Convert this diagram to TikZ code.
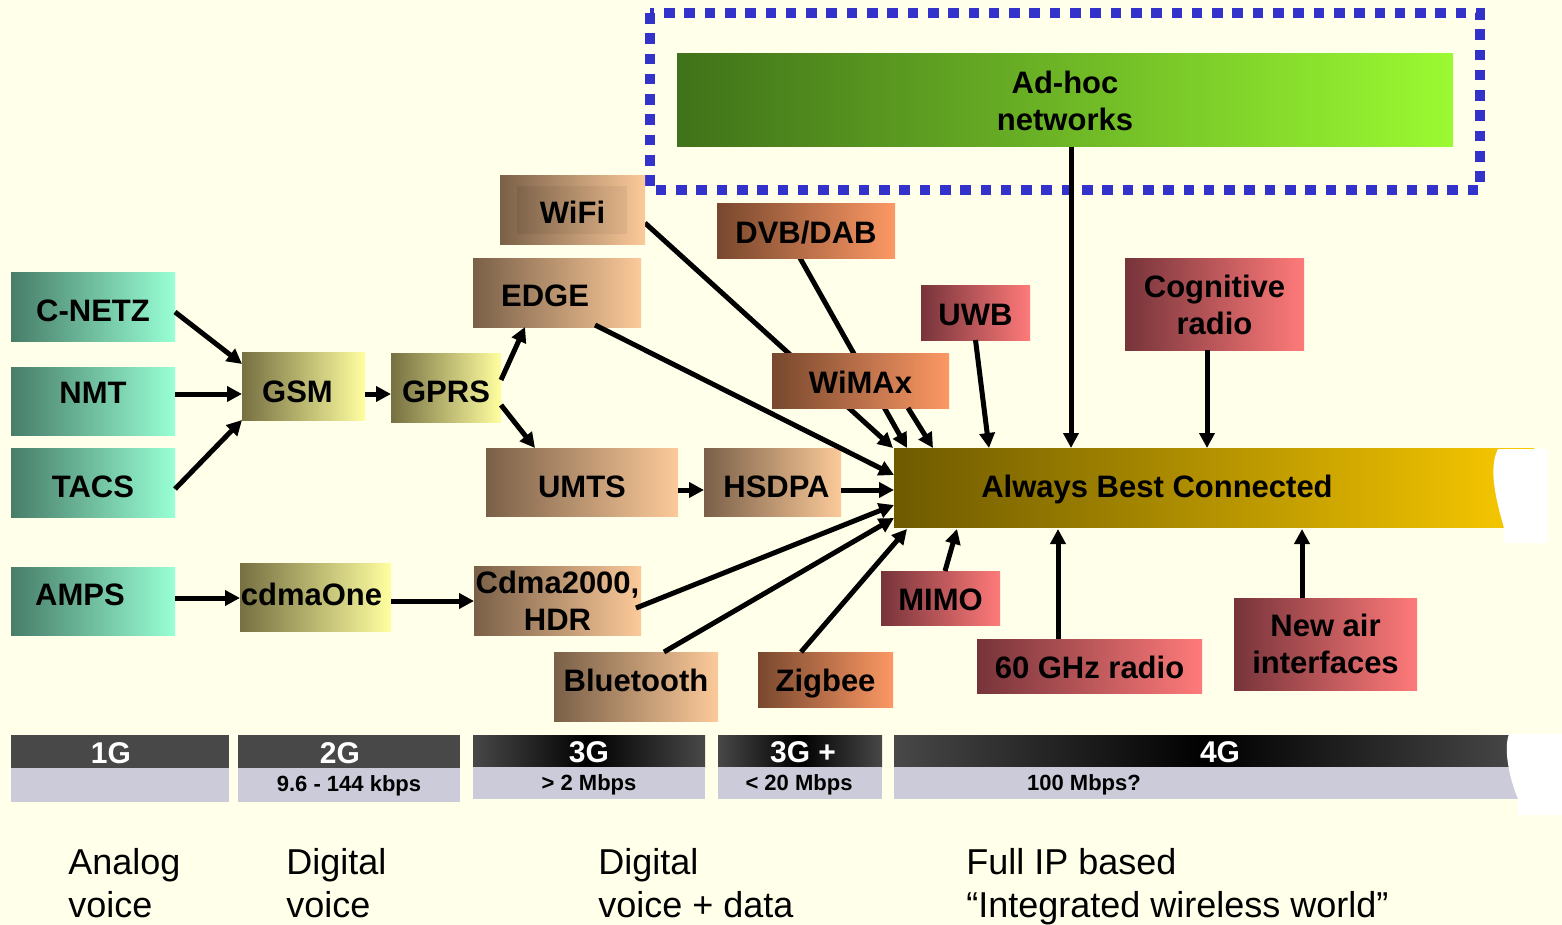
\documentclass[tikz,border=0pt]{standalone}
\usepackage{fontspec}
\setmainfont{Liberation Sans}
\usetikzlibrary{arrows.meta,fit,calc}
\pgfdeclarelayer{back}
\pgfdeclarelayer{behind}
\pgfsetlayers{back,behind,main}
\definecolor{bgc}{RGB}{255,255,234}
\definecolor{tealL}{RGB}{72,125,105}\definecolor{tealR}{RGB}{152,255,212}
\definecolor{oliveL}{RGB}{118,112,66}\definecolor{oliveR}{RGB}{255,255,160}
\definecolor{peachL}{RGB}{122,96,72}\definecolor{peachR}{RGB}{252,202,154}
\definecolor{orangeL}{RGB}{120,72,46}\definecolor{orangeR}{RGB}{252,152,100}
\definecolor{roseL}{RGB}{118,52,58}\definecolor{roseR}{RGB}{255,122,122}
\definecolor{greenL}{RGB}{64,114,26}\definecolor{greenR}{RGB}{155,250,50}
\definecolor{goldL}{RGB}{110,90,0}\definecolor{goldR}{RGB}{250,202,0}
\definecolor{dotblue}{RGB}{51,51,204}
\definecolor{bardark}{RGB}{72,72,72}
\definecolor{barlight}{RGB}{203,203,217}
\tikzset{
  txt/.style={inner sep=0pt, outer sep=0pt, font=\bfseries\fontsize{15.5}{18.5}\selectfont, align=center, text=black},
  box/.style={inner sep=0pt, outer sep=0pt},
  bteal/.style={box, left color=tealL, right color=tealR},
  bolive/.style={box, left color=oliveL, right color=oliveR},
  bpeach/.style={box, left color=peachL, right color=peachR},
  borange/.style={box, left color=orangeL, right color=orangeR},
  brose/.style={box, left color=roseL, right color=roseR},
  bgreen/.style={box, left color=greenL, right color=greenR},
  bgold/.style={box, left color=goldL, right color=goldR},
  arr/.style={line width=2.5pt, -{Triangle[length=7.5pt,width=7.5pt]}},
  barhead/.style={text=white, font=\bfseries\fontsize{15}{17}\selectfont, inner sep=0pt},
  barsub/.style={text=black, font=\bfseries\fontsize{11}{13}\selectfont, inner sep=0pt},
  era/.style={anchor=north west, align=left, inner sep=0pt, font=\fontsize{18}{21.5}\selectfont}
}
\begin{document}
\begin{tikzpicture}[x=0.5pt,y=-0.5pt]
\useasboundingbox (0,0) rectangle (1562,925);
\begin{pgfonlayer}{back}
\fill[bgc] (0,0) rectangle (1562,925);
\end{pgfonlayer}

% dotted frame and ad-hoc
\draw[dotblue, line width=5.3pt, dash pattern=on 5.3pt off 4.85pt] (650,13) rectangle (1480,190);
\node[bgreen, fit={(677,54) (1453,147)}, label={[txt]center:{Ad-hoc\\networks}}] (adhoc) {};

% 1G column
\node[bteal, fit={(11,272) (175,341)}, label={[txt,yshift=-2pt]center:{C-NETZ}}] (cnetz) {};
\node[bteal, fit={(11,367) (175,435)}, label={[txt,yshift=4pt]center:{NMT}}] (nmt) {};
\node[bteal, fit={(11,448) (175,517)}, label={[txt,yshift=-2pt]center:{TACS}}] (tacs) {};
\node[bteal, fit={(11,567) (175,635)}, label={[txt,xshift=-6.5pt,yshift=3pt]center:{AMPS}}] (amps) {};

% 2G
\node[bolive, fit={(242,352) (365,420)}, label={[txt,xshift=-3pt,yshift=-3pt]center:{GSM}}] (gsm) {};
\node[bolive, fit={(391,353) (501,422)}, label={[txt,yshift=-2pt]center:{GPRS}}] (gprs) {};
\node[bolive, fit={(240,563) (391,631)}, label={[txt,xshift=-2pt,yshift=1.5pt]center:{cdmaOne}}] (cdmaone) {};

% 3G
\node[bpeach, fit={(500,176) (645,245)},
  path picture={\fill[left color=peachL!92!black, right color=peachR!95!black]
    ([shift={(17,11)}]path picture bounding box.north west) rectangle
    ([shift={(-18,-11)}]path picture bounding box.south east);},
  label={[txt,yshift=-1pt]center:{WiFi}}] (wifi) {};
\node[bpeach, fit={(473,258) (641,327)}, label={[txt,xshift=-6pt,yshift=-1.5pt]center:{EDGE}}] (edge) {};
\node[bpeach, fit={(486,448) (678,516)}, label={[txt,yshift=-2.5pt]center:{UMTS}}] (umts) {};
\node[bpeach, fit={(704,448) (841,516)}, label={[txt,xshift=2pt,yshift=-2.5pt]center:{HSDPA}}] (hsdpa) {};
\node[bpeach, fit={(474,566) (641,635)}, label={[txt]center:{Cdma2000,\\HDR}}] (cdma2000) {};
\node[bpeach, fit={(554,652) (718,721)}, label={[txt,yshift=3pt]center:{Bluetooth}}] (bluetooth) {};

% 3G+
\node[borange, fit={(717,204) (895,258)}, label={[txt,yshift=-1pt]center:{DVB/DAB}}] (dvb) {};
\node[borange, fit={(758,652) (893,707)}, label={[txt,yshift=-2pt]center:{Zigbee}}] (zigbee) {};

% 4G
\node[brose, fit={(921,285) (1030,340)}, label={[txt,yshift=-1pt]center:{UWB}}] (uwb) {};
\node[brose, fit={(1125,258) (1304,350)}, label={[txt,yshift=-0.5pt]center:{Cognitive\\radio}}] (cog) {};
\node[brose, fit={(881,571) (1000,625)}, label={[txt,yshift=-1pt]center:{MIMO}}] (mimo) {};
\node[brose, fit={(977,639) (1202,693)}, label={[txt,yshift=-0.5pt]center:{60 GHz radio}}] (ghz) {};
\node[brose, fit={(1234,598) (1417,690)}, label={[txt]center:{New air\\interfaces}}] (newair) {};

\node[bgold, fit={(894,448) (1534,527)}] (abc) {};
\fill[white] (1498,449) .. controls (1488,468) and (1496,500) .. (1504,528) -- (1504,543) -- (1548,543) -- (1548,449) -- cycle;
\node[txt] at (1157,489) {Always Best Connected};

% arrows passing behind WiMAx
\begin{pgfonlayer}{behind}
\draw[arr] ([shift={(0,12.5)}]wifi.east) -- ([shift={(-1,0)}]abc.north west);
\draw[arr] ([shift={(-6,0)}]dvb.south) -- ([shift={(13,0)}]abc.north west);
\end{pgfonlayer}
\node[borange, fit={(772,353) (949,408)}, label={[txt,yshift=-1pt]center:{WiMAx}}] (wimax) {};

% arrows
\draw[arr] ([shift={(0,5.5)}]cnetz.east) -- ([shift={(0,-22)}]gsm.west);
\draw[arr] ([shift={(0,-7)}]nmt.east) -- ([shift={(0,8)}]gsm.west);
\draw[arr] ([shift={(0,6.5)}]tacs.east) -- (gsm.south west);
\draw[arr] ([shift={(0,8)}]gsm.east) -- ([shift={(0,6.5)}]gprs.west);
\draw[arr] ([shift={(0,-7.5)}]gprs.east) -- ([shift={(-32,0)}]edge.south);
\draw[arr] ([shift={(0,17.5)}]gprs.east) -- ([shift={(-47,0)}]umts.north);
\draw[arr] ([shift={(38,-2)}]edge.south) -- ([shift={(0,-12.5)}]abc.west);
\draw[arr] ([shift={(47.5,0)}]wimax.south) -- ([shift={(39,0)}]abc.north west);
\draw[arr] (uwb.south) -- ([shift={(95,0)}]abc.north west);
\draw[arr] ([shift={(6,0)}]adhoc.south) -- ([shift={(177,0)}]abc.north west);
\draw[arr] ([shift={(-7.5,0)}]cog.south) -- ([shift={(313,0)}]abc.north west);
\draw[arr] ([shift={(0,8)}]umts.east) -- ([shift={(0,8)}]hsdpa.west);
\draw[arr] ([shift={(0,8)}]hsdpa.east) -- ([shift={(0,2.5)}]abc.west);
\draw[arr] ([shift={(0,-3)}]amps.east) -- ([shift={(0,1)}]cdmaone.west);
\draw[arr] ([shift={(0,4)}]cdmaone.east) -- ([shift={(0,0.5)}]cdma2000.west);
\draw[arr] ([shift={(-5,7.5)}]cdma2000.east) -- ([shift={(0,17.5)}]abc.west);
\draw[arr] ([shift={(28,0)}]bluetooth.north) -- ([shift={(0,30.5)}]abc.west);
\draw[arr] ([shift={(-24.5,0)}]zigbee.north) -- ([shift={(13,2)}]abc.south west);
\draw[arr] ([shift={(4.5,0)}]mimo.north) -- ([shift={(63,2)}]abc.south west);
\draw[arr] ([shift={(-31.5,0)}]ghz.north) -- ([shift={(164,2)}]abc.south west);
\draw[arr] ([shift={(-23.5,0)}]newair.north) -- ([shift={(408,2)}]abc.south west);

% generation bars
\fill[bardark] (11,735) rectangle (229,768);
\fill[barlight] (11,768) rectangle (229,802);
\fill[bardark] (238,735) rectangle (460,768);
\fill[barlight] (238,768) rectangle (460,802);
\shade[left color=bardark, right color=bardark, middle color=black] (473,735) rectangle (705,767);
\fill[barlight] (473,767) rectangle (705,799);
\shade[left color=bardark, right color=bardark, middle color=black] (718,735) rectangle (882,767);
\fill[barlight] (718,767) rectangle (882,799);
\shade[left color=bardark, right color=bardark, middle color=black] (894,735) rectangle (1520,767);
\fill[barlight] (894,767) rectangle (1520,799);
\fill[white] (1509,734) .. controls (1503,750) and (1510,780) .. (1518,799) -- (1518,815) -- (1562,815) -- (1562,734) -- cycle;

\node[barhead] at (111,753) {1G};
\node[barhead] at (340,753) {2G};
\node[barhead] at (589,752) {3G};
\node[barhead] at (803,752) {3G +};
\node[barhead] at (1220,752) {4G};
\node[barsub] at (349,786) {9.6 - 144 kbps};
\node[barsub] at (589,785) {> 2 Mbps};
\node[barsub] at (799,785) {< 20 Mbps};
\node[barsub] at (1084,785) {100 Mbps?};

% era texts
\node[era] at (68,848) {Analog\\voice};
\node[era] at (286,848) {Digital\\voice};
\node[era] at (598,848) {Digital\\voice + data};
\node[era] at (966,848) {Full IP based\\“Integrated wireless world”};
\end{tikzpicture}
\end{document}
